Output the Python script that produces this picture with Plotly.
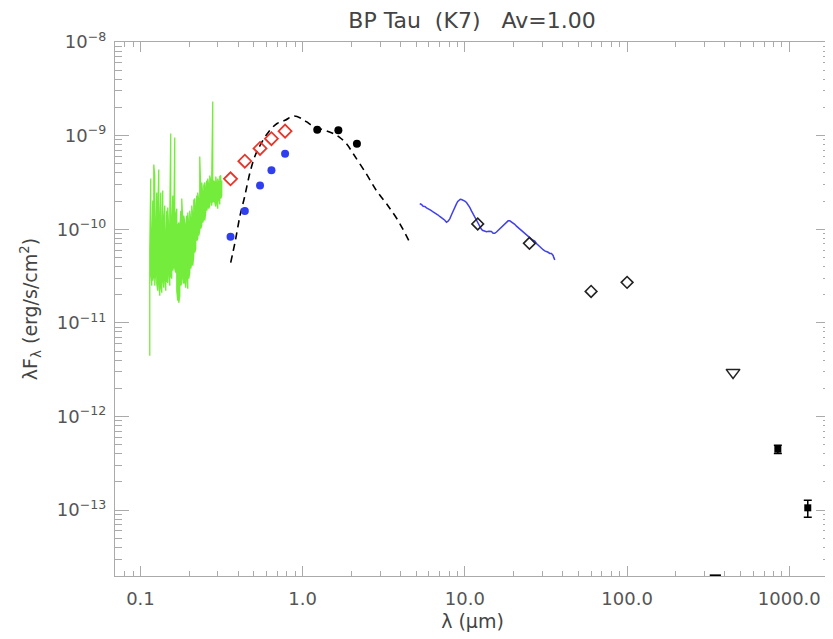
import plotly.graph_objects as go

# ---------------- data ----------------
# UV spectrum (green): wavelength (micron), upper and lower envelope of noisy flux
uv_lam = [0.1141, 0.1157, 0.1174, 0.1191, 0.1208, 0.1225, 0.1243, 0.1260, 0.1278, 0.1297,
          0.1315, 0.1334, 0.1353, 0.1372, 0.1392, 0.1412, 0.1432, 0.1452, 0.1473, 0.1494,
          0.1516, 0.1537, 0.1559, 0.1582, 0.1604, 0.1627, 0.1650, 0.1674, 0.1698, 0.1722,
          0.1747, 0.1772, 0.1797, 0.1823, 0.1849, 0.1875, 0.1902, 0.1929, 0.1957, 0.1985,
          0.2013, 0.2042, 0.2071, 0.2101, 0.2131, 0.2161, 0.2192, 0.2223, 0.2255, 0.2287,
          0.2320, 0.2353, 0.2387, 0.2421, 0.2456, 0.2491, 0.2526, 0.2563, 0.2599, 0.2636,
          0.2674, 0.2712, 0.2751, 0.2790, 0.2830, 0.2871, 0.2912, 0.2953, 0.2995, 0.3038,
          0.3082, 0.3126, 0.3170]
uv_hi = [5.92e-11, 3.48e-10, 7.57e-11, 2.03e-10, 4.92e-10, 3.75e-10, 9.68e-11, 2.47e-10, 1.40e-10, 4.35e-10,
         1.10e-10, 2.47e-10, 8.56e-11, 2.59e-10, 1.24e-10, 1.79e-10, 7.57e-11, 1.58e-10, 1.71e-10, 9.68e-11,
         1.40e-10, 1.055e-9, 1.10e-10, 2.29e-10, 8.56e-11, 9.56e-10, 1.40e-10, 1.66e-10, 1.10e-10, 1.18e-10,
         9.68e-11, 1.58e-10, 2.13e-10, 1.24e-10, 1.40e-10, 1.18e-10, 1.02e-10, 1.40e-10, 1.51e-10, 1.10e-10,
         1.58e-10, 1.24e-10, 1.79e-10, 1.40e-10, 2.03e-10, 2.13e-10, 1.58e-10, 2.29e-10, 2.47e-10, 2.03e-10,
         5.99e-10, 2.59e-10, 3.16e-10, 2.29e-10, 2.93e-10, 3.16e-10, 2.59e-10, 3.32e-10, 3.48e-10, 2.93e-10,
         3.75e-10, 3.32e-10, 3.75e-10, 2.32e-9, 3.32e-10, 3.16e-10, 3.66e-10, 2.93e-10, 3.48e-10, 3.16e-10,
         3.66e-10, 3.75e-10, 3.32e-10]
uv_lo = [4.46e-12, 3.62e-11, 2.50e-11, 2.83e-11, 3.20e-11, 2.50e-11, 3.62e-11, 2.63e-11, 2.21e-11, 2.83e-11,
         1.95e-11, 2.50e-11, 2.10e-11, 2.97e-11, 2.38e-11, 3.20e-11, 2.21e-11, 2.83e-11, 2.69e-11, 3.62e-11,
         2.50e-11, 3.20e-11, 2.97e-11, 3.62e-11, 4.09e-11, 3.80e-11, 3.44e-11, 2.21e-11, 1.73e-11, 1.64e-11,
         1.95e-11, 2.50e-11, 2.69e-11, 3.20e-11, 2.63e-11, 2.83e-11, 2.38e-11, 3.20e-11, 2.32e-11, 2.97e-11,
         3.44e-11, 3.80e-11, 4.40e-11, 4.09e-11, 5.23e-11, 5.63e-11, 6.22e-11, 7.57e-11, 7.95e-11, 8.56e-11,
         9.68e-11, 1.02e-10, 1.10e-10, 1.18e-10, 1.30e-10, 1.24e-10, 1.51e-10, 1.58e-10, 1.79e-10, 1.66e-10,
         1.79e-10, 2.03e-10, 1.79e-10, 1.93e-10, 2.03e-10, 1.93e-10, 1.75e-10, 2.03e-10, 1.66e-10, 2.13e-10,
         1.84e-10, 2.13e-10, 2.29e-10]

# Photosphere model (dashed)
mod_lam = [0.360, 0.383, 0.411, 0.438, 0.474, 0.509, 0.546, 0.615, 0.692, 0.779, 0.878, 0.987,
           1.06, 1.16, 1.35, 1.53, 1.69, 1.86, 2.05, 2.47, 2.85, 3.29, 3.87, 4.57]
mod_flux = [4.4e-11, 7.3e-11, 1.40e-10, 2.2e-10, 4.07e-10, 6.1e-10, 7.85e-10, 1.09e-9, 1.34e-9,
            1.46e-9, 1.62e-9, 1.52e-9, 1.40e-9, 1.26e-9, 1.15e-9, 1.06e-9, 9.6e-10, 8.2e-10,
            6.4e-10, 3.9e-10, 2.59e-10, 1.87e-10, 1.24e-10, 7.26e-11]

# IRS spectrum (blue line)
irs_lam = [5.27, 5.40, 5.53, 5.66, 5.80, 5.94, 6.08, 6.22, 6.37, 6.52, 6.68, 6.84, 7.00, 7.17,
           7.34, 7.52, 7.70, 7.88, 8.07, 8.26, 8.46, 8.66, 8.87, 9.04, 9.21, 9.37, 9.53, 9.76,
           9.99, 10.23, 10.47, 10.72, 10.98, 11.24, 11.51, 11.70, 11.90, 12.13, 12.36, 12.60,
           12.83, 13.20, 13.58, 14.08, 14.58, 14.93, 15.29, 15.66, 16.03, 16.42, 16.81, 17.21,
           17.62, 18.04, 18.47, 18.92, 19.37, 19.84, 20.31, 20.80, 21.29, 21.80, 22.33, 22.87,
           23.41, 23.97, 24.54, 25.13, 25.73, 26.35, 26.98, 27.62, 28.28, 28.96, 29.66, 30.37,
           31.09, 31.84, 32.60, 33.38, 34.18, 34.60, 34.99, 35.40, 35.84]
irs_flux = [1.87e-10, 1.84e-10, 1.76e-10, 1.75e-10, 1.69e-10, 1.66e-10, 1.61e-10, 1.58e-10, 1.53e-10,
            1.50e-10, 1.45e-10, 1.42e-10, 1.37e-10, 1.34e-10, 1.29e-10, 1.25e-10, 1.19e-10, 1.22e-10,
            1.29e-10, 1.42e-10, 1.58e-10, 1.74e-10, 1.87e-10, 1.98e-10, 2.06e-10, 2.09e-10, 2.08e-10,
            2.05e-10, 2.00e-10, 1.93e-10, 1.84e-10, 1.71e-10, 1.57e-10, 1.45e-10, 1.34e-10, 1.26e-10,
            1.18e-10, 1.11e-10, 1.06e-10, 1.01e-10, 9.75e-11, 9.55e-11, 9.40e-11, 9.52e-11, 9.45e-11,
            9.08e-11, 9.05e-11, 9.35e-11, 9.72e-11, 1.01e-10, 1.05e-10, 1.09e-10, 1.14e-10, 1.19e-10,
            1.23e-10, 1.23e-10, 1.20e-10, 1.17e-10, 1.13e-10, 1.08e-10, 1.04e-10, 1.01e-10, 9.75e-11,
            9.30e-11, 9.00e-11, 8.70e-11, 8.40e-11, 8.05e-11, 7.85e-11, 7.65e-11, 7.50e-11, 7.05e-11,
            6.75e-11, 6.60e-11, 6.35e-11, 6.05e-11, 5.88e-11, 5.80e-11, 5.68e-11, 5.52e-11, 5.50e-11,
            5.38e-11, 5.25e-11, 4.95e-11, 4.70e-11]

# Observed optical photometry (red open diamonds)
obs_lam = [0.359, 0.44, 0.546, 0.642, 0.779]
obs_flux = [3.46e-10, 5.33e-10, 7.3e-10, 9.27e-10, 1.117e-9]

# Reddened / corrected optical photometry (blue filled circles)
der_lam = [0.359, 0.44, 0.546, 0.642, 0.779]
der_flux = [8.3e-11, 1.57e-10, 2.93e-10, 4.28e-10, 6.4e-10]

# 2MASS JHK (black filled circles)
jhk_lam = [1.23, 1.66, 2.16]
jhk_flux = [1.155e-9, 1.14e-9, 8.18e-10]

# IRAS (black open diamonds)
iras_lam = [12.0, 25.0, 60.0, 100.0]
iras_flux = [1.14e-10, 7.08e-11, 2.17e-11, 2.71e-11]

# Sub-mm upper limit (open triangle)
ul_lam = [450.0]
ul_flux = [2.96e-12]

# Sub-mm / mm detections (filled squares with error bars)
mm_lam = [850.0, 1300.0]
mm_flux = [4.48e-13, 1.06e-13]
mm_err = [0.45e-13, 0.22e-13]

# Off-scale point at bottom edge
low_lam = [350.0]
low_flux = [2.0e-14]

# Axis ticks
x_tickvals = [0.1, 1.0, 10.0, 100.0, 1000.0]
x_ticktext = ["0.1", "1.0", "10.0", "100.0", "1000.0"]
y_tickvals = [1e-13, 1e-12, 1e-11, 1e-10, 1e-9, 1e-8]
y_ticktext = ["10<sup>\u221213</sup>", "10<sup>\u221212</sup>", "10<sup>\u221211</sup>",
              "10<sup>\u221210</sup>", "10<sup>\u22129</sup>", "10<sup>\u22128</sup>"]

# ---------------- figure ----------------
uv_x, uv_y = [], []
for lam, hi, lo in zip(uv_lam, uv_hi, uv_lo):
    uv_x += [lam, lam]
    uv_y += [lo, hi] if len(uv_x) % 4 == 2 else [hi, lo]

fig = go.Figure()
fig.add_trace(go.Scatter(x=uv_x, y=uv_y, mode="lines",
                         line=dict(color="#74ec3c", width=1.3)))
fig.add_trace(go.Scatter(x=mod_lam, y=mod_flux, mode="lines",
                         line=dict(color="black", width=1.6, dash="7px,5px"),
                         line_shape="spline"))
fig.add_trace(go.Scatter(x=irs_lam, y=irs_flux, mode="lines",
                         line=dict(color="#4040ee", width=1.5)))
fig.add_trace(go.Scatter(x=obs_lam, y=obs_flux, mode="markers",
                         marker=dict(symbol="diamond-open", size=10, color="#e8352a",
                                     line=dict(width=1.8, color="#e8352a"))))
fig.add_trace(go.Scatter(x=der_lam, y=der_flux, mode="markers",
                         marker=dict(symbol="circle", size=8, color="#2f3ff0")))
fig.add_trace(go.Scatter(x=jhk_lam, y=jhk_flux, mode="markers",
                         marker=dict(symbol="circle", size=8, color="black")))
fig.add_trace(go.Scatter(x=iras_lam, y=iras_flux, mode="markers",
                         marker=dict(symbol="diamond-open", size=9, color="#222",
                                     line=dict(width=1.6, color="#222"))))
fig.add_trace(go.Scatter(x=ul_lam, y=ul_flux, mode="markers",
                         marker=dict(symbol="triangle-down-open", size=12, color="#222",
                                     line=dict(width=1.5, color="#222"))))
fig.add_trace(go.Scatter(x=mm_lam, y=mm_flux, mode="markers",
                         error_y=dict(type="data", array=mm_err, color="black",
                                      thickness=1.5, width=4),
                         marker=dict(symbol="square", size=7, color="black")))
fig.add_trace(go.Scatter(x=low_lam, y=low_flux, mode="markers", cliponaxis=False,
                         marker=dict(symbol="line-ew", size=8,
                                     line=dict(width=2.5, color="black"))))

axis_common = dict(
    type="log", showline=True, linecolor="#aaaaaa", linewidth=1.2, mirror="allticks",
    ticks="inside", tickcolor="#aaaaaa", showgrid=False, zeroline=False, automargin=False,
    tickmode="array", tickfont=dict(family="DejaVu Sans", size=18, color="#555555"),
)

x_minor = [m * 10.0 ** e for e in range(-2, 4) for m in range(2, 10)]
y_minor = [m * 10.0 ** e for e in range(-14, -8) for m in range(2, 10)]

fig.update_xaxes(**axis_common, range=[-1.157, 3.251], tickvals=x_tickvals,
                 ticktext=x_ticktext, ticklen=10, tickwidth=1.2, ticklabelstandoff=6,
                 minor=dict(tickmode="array", tickvals=x_minor, ticklen=5,
                            tickcolor="#aaaaaa", ticks="inside", showgrid=False),
                 title=dict(text="\u03bb (\u03bcm)", standoff=6,
                            font=dict(family="DejaVu Sans", size=19, color="#444444")))
fig.update_yaxes(**axis_common, range=[-13.703, -8.0], tickvals=y_tickvals,
                 ticktext=y_ticktext, ticklen=14, tickwidth=1.2, ticklabelstandoff=4,
                 minor=dict(tickmode="array", tickvals=y_minor, ticklen=7,
                            tickcolor="#aaaaaa", ticks="inside", showgrid=False),
                 title=dict(text="\u03bbF<sub>\u03bb</sub> (erg/s/cm<sup>2</sup>)", standoff=14,
                            font=dict(family="DejaVu Sans", size=19, color="#444444")))

# the page adds an 8 px offset, so margins are reduced on the left/top
fig.update_layout(
    width=833, height=639,
    margin=dict(l=107, r=11, t=34, b=71),
    paper_bgcolor="white", plot_bgcolor="white",
    showlegend=False,
    title=dict(text="BP\u00a0Tau\u00a0\u00a0(K7)\u00a0\u00a0\u00a0Av=1.00", x=0.557, xanchor="center",
               y=1 - 12.5 / 639, yanchor="middle",
               font=dict(family="DejaVu Sans", size=22, color="#444444")),
)

fig.write_html("out.html")
